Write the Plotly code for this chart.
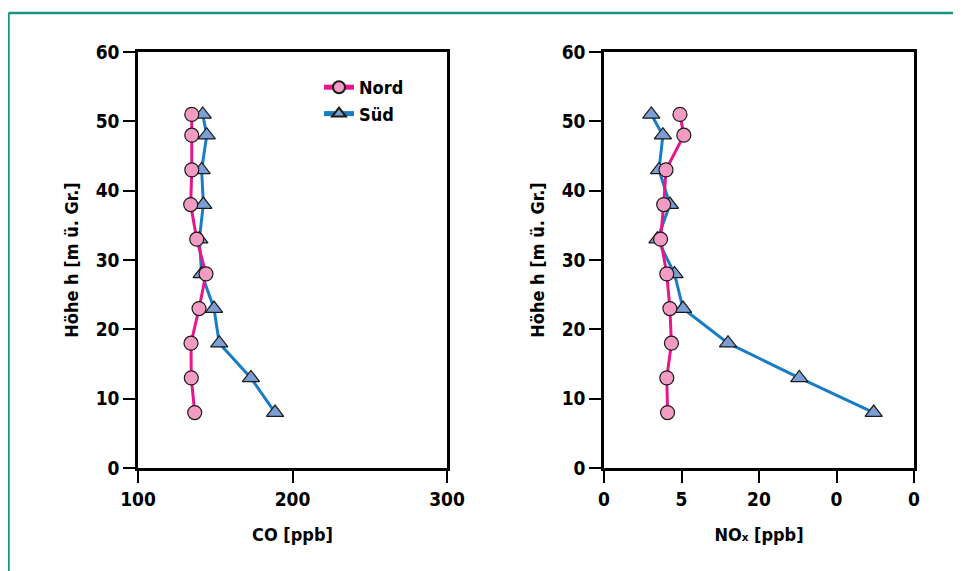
import plotly.graph_objects as go

# Heights (m above ground)
heights = [51, 48, 43, 38, 33, 28, 23, 18, 13, 8]

# CO [ppb]
co_nord = [134.8, 134.8, 134.8, 134.1, 138.0, 144.0, 139.5, 134.3, 134.5, 136.7]
co_sued = [141.9, 144.5, 141.2, 142.3, 139.7, 141.2, 149.2, 152.6, 173.1, 188.7]

# NOx [ppb] (axis scale as drawn)
nox_nord = [9.8, 10.3, 8.0, 7.7, 7.3, 8.1, 8.5, 8.7, 8.1, 8.2]
nox_sued = [6.1, 7.6, 7.1, 8.5, 6.9, 9.1, 10.2, 16.0, 25.2, 34.8]

co_ticks = [100, 200, 300]
nox_tickvals = [0, 10, 20, 30, 40]
nox_ticktext = ["0", "5", "20", "0", "0"]
y_ticks = [0, 10, 20, 30, 40, 50, 60]

FONT = "DejaVu Sans Condensed"
NORD_LINE = "#e8168c"
NORD_FILL = "#f29cc4"
SUED_LINE = "#1a7cc4"
SUED_FILL = "#7b9fd2"

fig = go.Figure()

def add_series(x, y, name, line, fill, symbol, xa, ya, show):
    fig.add_trace(go.Scatter(
        x=x, y=y, name=name, mode="lines+markers",
        line=dict(color=line, width=3),
        marker=dict(symbol=symbol, size=14 if symbol == "circle" else 15,
                    color=fill, line=dict(color="#1a1a1a", width=1.2)),
        xaxis=xa, yaxis=ya, showlegend=show,
        legendrank=1 if name == "Nord" else 2,
    ))

add_series(co_sued, heights, "Süd", SUED_LINE, SUED_FILL, "triangle-up", "x", "y", True)
add_series(co_nord, heights, "Nord", NORD_LINE, NORD_FILL, "circle", "x", "y", True)
add_series(nox_sued, heights, "Süd", SUED_LINE, SUED_FILL, "triangle-up", "x2", "y2", False)
add_series(nox_nord, heights, "Nord", NORD_LINE, NORD_FILL, "circle", "x2", "y2", False)

# page body has an 8px margin; the figure is placed at (8, 8)
OFF = 8
W, H = 961 - OFF, 571 - OFF

def px(x):
    return (x - OFF) / W

def py(y):
    return (H - (y - OFF)) / H

ydom = [py(468), py(52)]

axis_common = dict(
    showline=True, linecolor="black", linewidth=2.5, mirror=True,
    ticks="outside", ticklen=12, tickwidth=2, tickcolor="black",
    showgrid=False, zeroline=False, automargin=False,
    tickfont=dict(family=FONT, size=19, color="black", weight="bold"),
)
title_font = dict(family=FONT, size=18, color="black", weight="bold")

fig.update_layout(
    width=W, height=H,
    margin=dict(l=0, r=0, t=0, b=0),
    paper_bgcolor="white", plot_bgcolor="white",
    font=dict(family=FONT, color="black"),
    xaxis=dict(domain=[px(138), px(447)], range=[100, 300], tickvals=co_ticks,
               title=dict(text="CO [ppb]", font=title_font, standoff=20),
               anchor="y", **axis_common),
    yaxis=dict(domain=ydom, range=[0, 60], tickvals=y_ticks,
               title=dict(text="Höhe h [m ü. Gr.]", font=title_font, standoff=13),
               anchor="x", **axis_common),
    xaxis2=dict(domain=[px(604), px(914)], range=[0, 40], tickvals=nox_tickvals,
                ticktext=nox_ticktext,
                title=dict(text="NOₓ [ppb]", font=title_font, standoff=20),
                anchor="y2", **axis_common),
    yaxis2=dict(domain=ydom, range=[0, 60], tickvals=y_ticks,
                title=dict(text="Höhe h [m ü. Gr.]", font=title_font, standoff=13),
                anchor="x2", **axis_common),
    legend=dict(x=px(319), y=py(69), xanchor="left", yanchor="top",
                bgcolor="rgba(0,0,0,0)", borderwidth=0,
                font=dict(family=FONT, size=18, color="black", weight="bold"),
                tracegroupgap=0, itemsizing="constant"),
    shapes=[
        dict(type="line", xref="paper", yref="paper", x0=px(8.5), x1=1.02,
             y0=py(13), y1=py(13),
             line=dict(color="#1a9584", width=2.5)),
        dict(type="line", xref="paper", yref="paper", x0=px(8.5), x1=px(8.5),
             y0=-0.02, y1=py(13),
             line=dict(color="#1a9584", width=2.5)),
    ],
)

fig.write_html("out.html")
